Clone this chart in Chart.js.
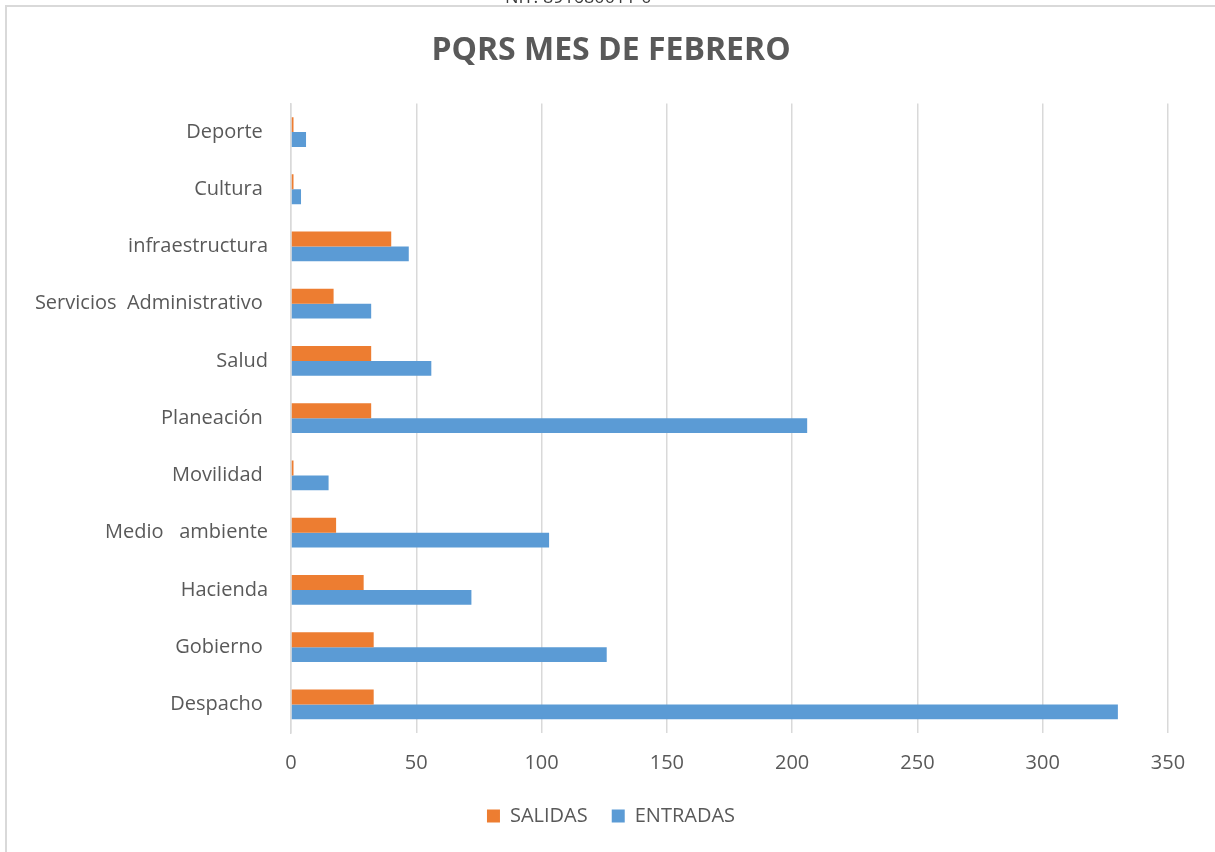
<!DOCTYPE html>
<html>
<head>
<meta charset="utf-8">
<script src="https://cdn.jsdelivr.net/npm/chart.js@4/dist/chart.umd.min.js"></script>
<style>
    html, body { margin: 0; padding: 0; background: #fff; }
    #wrap { width: 1215px; height: 852px; }
</style>
</head>
<body>
<div id="wrap"><canvas id="myChart" width="1215" height="852"></canvas></div>
<script>
// data
const categories = [
    "Deporte ", "Cultura ", "infraestructura", "Servicios  Administrativo ", "Salud",
    "Planeación ", "Movilidad ", "Medio   ambiente", "Hacienda", "Gobierno ", "Despacho "
];
const salidas = [1, 1, 40, 17, 32, 32, 1, 18, 29, 33, 33];
const entradas = [6, 4, 47, 32, 56, 206, 15, 103, 72, 126, 330];
const xTicks = [0, 50, 100, 150, 200, 250, 300, 350];

const grey = "#595959";
const gridGrey = "#d9d9d9";
const font = "'Open Sans', 'DejaVu Sans', sans-serif";

// frame + clipped header text of the page
const framePlugin = {
    id: "frame",
    beforeDraw(chart) {
        const c = chart.ctx;
        c.save();
        c.fillStyle = "#fff";
        c.fillRect(0, 0, chart.width, chart.height);
        c.fillStyle = "#3a3a3a";
        c.font = "18px " + font;
        c.textBaseline = "alphabetic";
        c.fillText("NIT. 891680011-0", 505, 3);
        c.strokeStyle = gridGrey;
        c.lineWidth = 2;
        c.beginPath();
        c.moveTo(6, chart.height);
        c.lineTo(6, 6);
        c.lineTo(chart.width, 6);
        c.stroke();
        c.restore();
    }
};

const ctx = document.getElementById("myChart").getContext("2d");
const myChart = new Chart(ctx, {
    type: "bar",
    data: {
        labels: categories,
        datasets: [
            { label: "SALIDAS", data: salidas, backgroundColor: "#ED7D31" },
            { label: "ENTRADAS", data: entradas, backgroundColor: "#5B9BD5" }
        ]
    },
    options: {
        indexAxis: "y",
        responsive: false,
        animation: false,
        datasets: {
            bar: { categoryPercentage: 0.52, barPercentage: 1.0 }
        },
        layout: { padding: { left: 7, right: 0, top: 8, bottom: 16 } },
        scales: {
            x: {
                min: 0,
                max: 350,
                afterBuildTicks: axis => { axis.ticks = xTicks.map(v => ({ value: v })); },
                afterFit: axis => { axis.height = 49; },
                grid: { color: gridGrey, lineWidth: 1.5, drawTicks: false },
                border: { display: false },
                ticks: { color: grey, font: { family: font, size: 20 }, padding: 18 }
            },
            y: {
                afterFit: axis => { axis.width = 284; },
                grid: { display: false, drawTicks: false },
                border: { color: gridGrey, width: 1.5 },
                ticks: { color: grey, font: { family: font, size: 20 }, padding: 23 }
            },
            // empty spacer on the right so the plot ends before the canvas edge
            spacer: {
                type: "linear",
                position: "right",
                afterFit: axis => { axis.width = 47; },
                grid: { display: false, drawTicks: false },
                border: { display: false },
                ticks: { display: false }
            }
        },
        plugins: {
            title: {
                display: true,
                text: "PQRS MES DE FEBRERO",
                color: grey,
                font: { family: font, size: 32, weight: "bold" },
                padding: { top: 24, bottom: 33 }
            },
            legend: {
                position: "bottom",
                labels: {
                    color: grey,
                    font: { family: font, size: 20 },
                    boxWidth: 13,
                    boxHeight: 13,
                    padding: 24
                }
            },
            tooltip: { enabled: false }
        }
    },
    plugins: [framePlugin]
});
</script>
</body>
</html>
